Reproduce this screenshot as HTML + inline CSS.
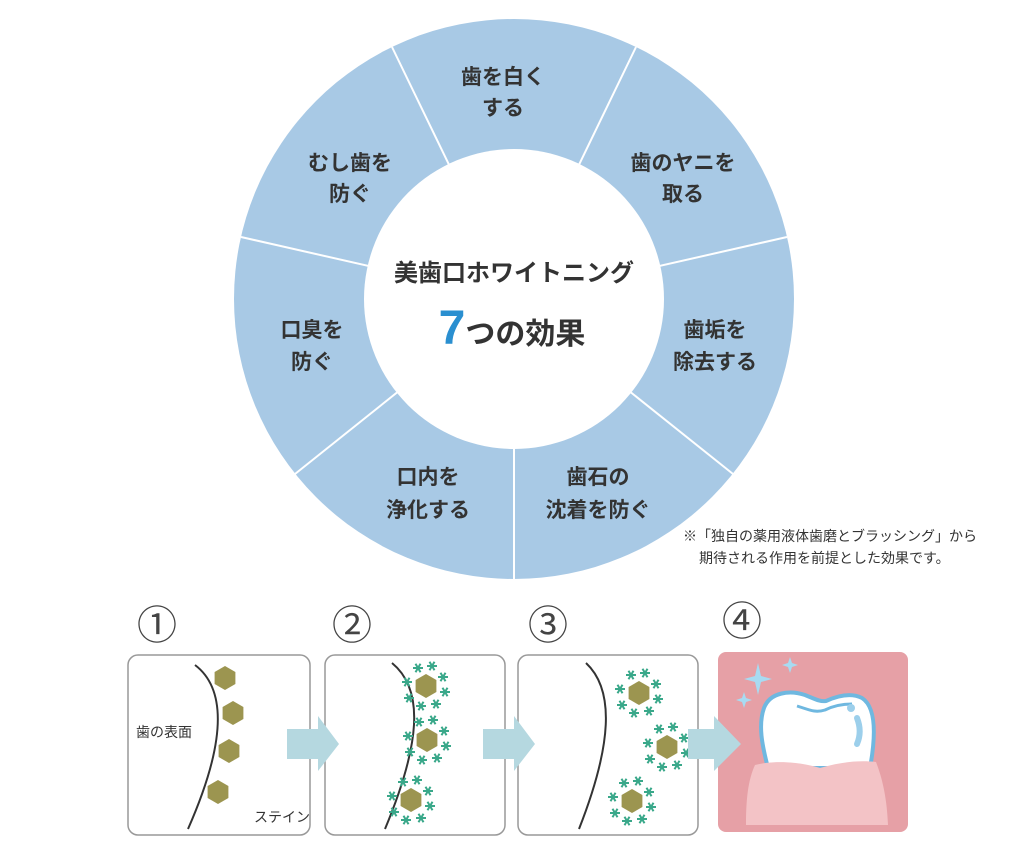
<!DOCTYPE html>
<html><head><meta charset="utf-8"><style>
html,body{margin:0;padding:0;background:#fff;}
svg{display:block;}
text{font-family:"Liberation Sans","Noto Sans CJK JP",sans-serif;}
</style></head><body>
<svg width="1024" height="856" viewBox="0 0 1024 856" xmlns="http://www.w3.org/2000/svg">
<defs>
<g id="hex"><polygon points="0,-12 10.4,-6 10.4,6 0,12 -10.4,6 -10.4,-6" fill="#9c9550"/></g>
<g id="ast" stroke="#3aa88a" stroke-width="2"><line x1="-5" y1="0" x2="5" y2="0"/><line x1="-2.5" y1="-4.3" x2="2.5" y2="4.3"/><line x1="-2.5" y1="4.3" x2="2.5" y2="-4.3"/></g>
<g id="cl"><use href="#hex"/><use href="#ast" x="-8" y="-18"/><use href="#ast" x="6" y="-20"/><use href="#ast" x="17" y="-9"/><use href="#ast" x="19" y="6"/><use href="#ast" x="10" y="18"/><use href="#ast" x="-5" y="20"/><use href="#ast" x="-17" y="12"/><use href="#ast" x="-19" y="-4"/></g>
</defs>
<circle cx="514" cy="299" r="280" fill="#a8c9e5"/>
<g stroke="#fff" stroke-width="2">
<line x1="514" y1="299" x2="392" y2="47"/>
<line x1="514" y1="299" x2="636" y2="47"/>
<line x1="514" y1="299" x2="787" y2="237"/>
<line x1="514" y1="299" x2="733" y2="474"/>
<line x1="514" y1="299" x2="514" y2="579"/>
<line x1="514" y1="299" x2="295" y2="474"/>
<line x1="514" y1="299" x2="241" y2="237"/>
</g>
<circle cx="514" cy="299" r="150" fill="#fff"/>
<g font-size="21" font-weight="bold" fill="#333" text-anchor="middle">
<text x="503" y="84">歯を白く</text><text x="503" y="115">する</text>
<text x="683" y="170">歯のヤニを</text><text x="683" y="201">取る</text>
<text x="715" y="337">歯垢を</text><text x="715" y="369">除去する</text>
<text x="598" y="484">歯石の</text><text x="598" y="517">沈着を防ぐ</text>
<text x="428" y="484">口内を</text><text x="428" y="517">浄化する</text>
<text x="312" y="337">口臭を</text><text x="312" y="369">防ぐ</text>
<text x="350" y="170">むし歯を</text><text x="350" y="201">防ぐ</text>
</g>
<text x="514" y="281" font-size="24" font-weight="bold" fill="#333" text-anchor="middle">美歯口ホワイトニング</text>
<text x="512" y="344" text-anchor="middle" font-weight="bold" fill="#333"><tspan font-size="48" fill="#2a8fd0">7</tspan><tspan font-size="30">つの効果</tspan></text>
<text x="683" y="541" font-size="14" fill="#333">※「独自の薬用液体歯磨とブラッシング」から</text>
<text x="699" y="563" font-size="14" fill="#333">期待される作用を前提とした効果です。</text>

<g font-size="40" fill="#444" text-anchor="middle" font-family="'Noto Sans CJK JP',sans-serif">
<text x="157" y="639">①</text><text x="352" y="639">②</text><text x="548" y="639">③</text><text x="742" y="635">④</text>
</g>
<g fill="#fff" stroke="#999" stroke-width="1.5">
<rect x="128" y="655" width="182" height="180" rx="10"/>
<rect x="325" y="655" width="180" height="180" rx="10"/>
<rect x="518" y="655" width="180" height="180" rx="10"/>
</g>
<rect x="718" y="652" width="190" height="180" rx="8" fill="#e6a0a6"/>
<g fill="none" stroke="#333" stroke-width="2">
<path d="M195 665 C228 690 225 745 188 829"/>
<path d="M392 663 C425 690 420 745 385 829"/>
<path d="M586 663 C615 690 612 745 579 829"/>
</g>
<use href="#hex" x="225" y="678"/><use href="#hex" x="233" y="713"/><use href="#hex" x="229" y="751"/><use href="#hex" x="218" y="792"/>
<text x="136" y="737" font-size="14" fill="#333">歯の表面</text>
<text x="254" y="822" font-size="14" fill="#333">ステイン</text>
<use href="#cl" x="426" y="686"/><use href="#cl" x="427" y="740"/><use href="#cl" x="411" y="800"/>
<use href="#cl" x="639" y="693"/><use href="#cl" x="667" y="747"/><use href="#cl" x="632" y="801"/>
<g fill="#b5d8e0">
<polygon points="287,729 318,729 318,716 339,744 318,771 318,759 287,759"/>
<polygon points="483,729 514,729 514,716 535,744 514,771 514,759 483,759"/>
<polygon points="688,729 714,729 714,716 741,744 714,771 714,759 688,759"/>
</g>
<path d="M768 768 C762 745 758 725 764 708 C770 692 790 690 805 695 C815 699 820 702 826 701 C835 697 850 692 862 698 C876 707 876 735 870 768 Z" fill="#fff" stroke="#6fb8e0" stroke-width="4"/>
<path d="M797 706 C810 710 815 713 825 710 C835 705 845 704 852 704" fill="none" stroke="#6fb8e0" stroke-width="3"/>
<circle cx="851" cy="708" r="4" fill="#9ccfeb"/>
<path d="M857 718 C861 728 860 737 857 744" stroke="#9ccfeb" stroke-width="6" fill="none" stroke-linecap="round"/>
<path d="M755 765 C775 760 800 762 820 768 C840 762 860 760 876 762 C883 780 887 800 888 825 L746 825 C746 800 748 780 755 765 Z" fill="#f3c3c6"/>
<g fill="#a8dbf2">
<path d="M758 663 L761 676 L772 679 L761 682 L758 695 L755 682 L744 679 L755 676 Z"/>
<path d="M790 657 L792 663 L798 665 L792 667 L790 673 L788 667 L782 665 L788 663 Z"/>
<path d="M744 692 L746 698 L752 700 L746 702 L744 708 L742 702 L736 700 L742 698 Z"/>
</g>
</svg>
</body></html>
